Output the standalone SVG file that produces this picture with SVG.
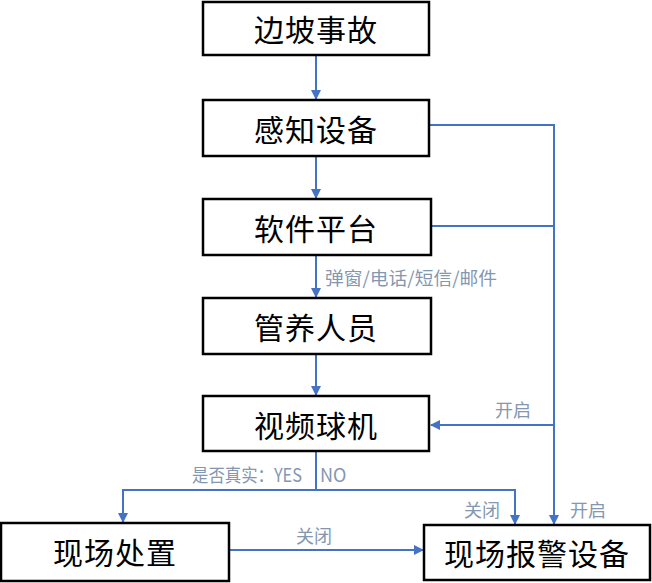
<svg xmlns="http://www.w3.org/2000/svg" width="652" height="583" viewBox="0 0 652 583">
<style>
.box{fill:#fff;stroke:#000;stroke-width:2.5}
.t{font-family:"Noto Sans CJK SC","Noto Sans",sans-serif;font-size:30px;fill:#000;text-anchor:middle;dominant-baseline:central;letter-spacing:1px}
.l{font-family:"Noto Sans CJK SC","Noto Sans",sans-serif;font-size:18px;fill:#8497B0}
.c{fill:none;stroke:#4472C4;stroke-width:2}
</style>
<defs>
<marker id="a" markerWidth="10" markerHeight="10" refX="9" refY="5" orient="auto" markerUnits="userSpaceOnUse">
<path d="M0,0 L10,5 L0,10 z" fill="#4472C4"/>
</marker>
</defs>
<rect width="652" height="583" fill="#fff"/>
<g id="connectors">
<line class="c" x1="316" y1="56" x2="316" y2="99" marker-end="url(#a)"/>
<line class="c" x1="316" y1="157" x2="316" y2="198" marker-end="url(#a)"/>
<line class="c" x1="316" y1="256" x2="316" y2="297" marker-end="url(#a)"/>
<line class="c" x1="316" y1="355" x2="316" y2="395" marker-end="url(#a)"/>
<polyline class="c" points="430,125 554,125 554,524" marker-end="url(#a)"/>
<line class="c" x1="432" y1="226" x2="554" y2="226"/>
<line class="c" x1="554" y1="425" x2="431" y2="425" marker-end="url(#a)"/>
<line class="c" x1="316" y1="452" x2="316" y2="490"/>
<polyline class="c" points="316,490 123,490 123,522" marker-end="url(#a)"/>
<polyline class="c" points="316,490 515,490 515,524" marker-end="url(#a)"/>
<line class="c" x1="230" y1="550" x2="423" y2="550" marker-end="url(#a)"/>
<text class="l" x="325" y="285" textLength="172" lengthAdjust="spacingAndGlyphs">弹窗/电话/短信/邮件</text>
<text class="l" x="495" y="417">开启</text>
<text class="l" x="192" y="482" textLength="110" lengthAdjust="spacingAndGlyphs">是否真实：YES</text>
<text class="l" x="320" y="482">NO</text>
<text class="l" x="464" y="517">关闭</text>
<text class="l" x="570" y="517">开启</text>
<text class="l" x="296" y="543">关闭</text>
</g>
<g id="n1"><rect class="box" x="203" y="2" width="226" height="53"/><text class="t" x="316" y="28">边坡事故</text></g>
<g id="n2"><rect class="box" x="203" y="100" width="226" height="56"/><text class="t" x="316" y="128">感知设备</text></g>
<g id="n3"><rect class="box" x="203" y="199" width="228" height="56"/><text class="t" x="316" y="227">软件平台</text></g>
<g id="n4"><rect class="box" x="203" y="298" width="228" height="56"/><text class="t" x="316" y="326">管养人员</text></g>
<g id="n5"><rect class="box" x="203" y="396" width="226" height="55"/><text class="t" x="316" y="424">视频球机</text></g>
<g id="n6"><rect class="box" x="1" y="523" width="228" height="58"/><text class="t" x="115" y="551">现场处置</text></g>
<g id="n7"><rect class="box" x="424" y="525" width="226" height="55"/><text class="t" x="537" y="552">现场报警设备</text></g>
</svg>
